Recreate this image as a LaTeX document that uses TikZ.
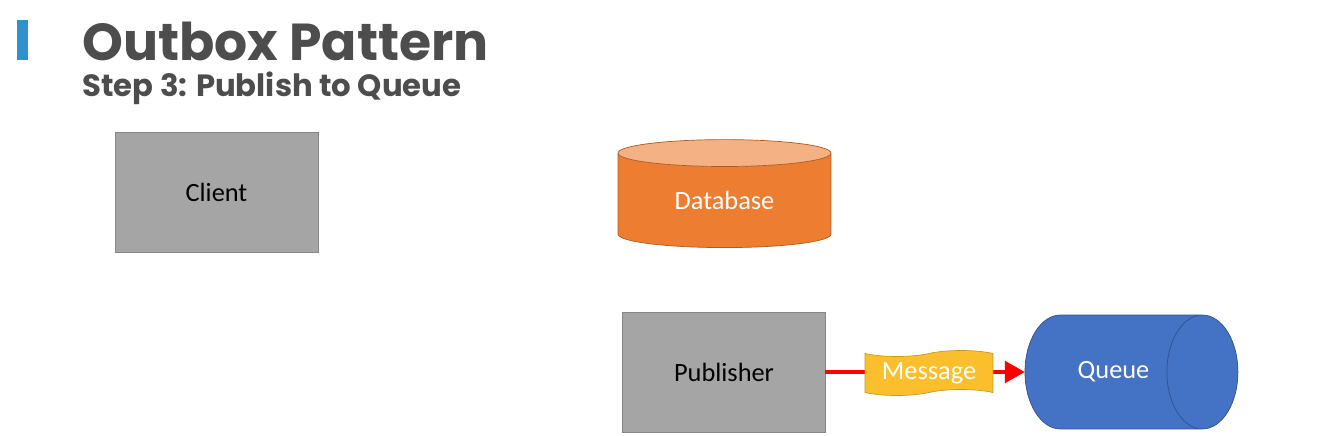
\documentclass[tikz,border=0pt]{standalone}
\usepackage{fontspec}
\setmainfont{Carlito}
\newfontfamily\headfont{Poppins}
\usetikzlibrary{shapes.geometric}
\usetikzlibrary{shapes.symbols}
\usetikzlibrary{arrows.meta}
\definecolor{titlegray}{HTML}{4D4D4D}
\definecolor{barblue}{HTML}{2E93CC}
\definecolor{boxgray}{HTML}{A5A5A5}
\definecolor{boxline}{HTML}{878787}
\definecolor{dborange}{HTML}{ED7D31}
\definecolor{dbtop}{HTML}{F4B183}
\definecolor{dbline}{HTML}{AE5A21}
\definecolor{queueblue}{HTML}{4472C4}
\definecolor{queueline}{HTML}{2F528F}
\definecolor{msgyellow}{HTML}{FBBF2D}
\definecolor{msgline}{HTML}{C99A1E}

\begin{document}
\begin{tikzpicture}[x=0.02cm, y=-0.02cm,
  label text/.style={font=\fontsize{15}{18}\selectfont},
  graybox/.style={label text, draw=boxline, fill=boxgray, inner sep=0pt, outer sep=0pt,
    minimum width=4.06cm, minimum height=2.4cm},
  store/.style={label text, cylinder, text=white, inner sep=0pt, outer sep=0pt},
  msgtape/.style={label text, tape, draw=msgline, fill=msgyellow, text=white,
    minimum width=2.56cm, minimum height=0.9cm, tape bend height=0.12cm, inner sep=0pt}]
\useasboundingbox (0,0) rectangle (1332,436);

% heading
\fill[barblue] (17,20) rectangle (28,60);
\node[anchor=base west, inner sep=0pt, text=titlegray, font=\headfont\bfseries\fontsize{29.6}{32}\selectfont] (title) at (82,60) {Outbox Pattern};
\node[anchor=base west, inner sep=0pt, text=titlegray, font=\headfont\bfseries\fontsize{17.5}{20}\selectfont] (subtitle) at (82,96) {Step 3: Publish to Queue};

% services
\node[graybox] (client) at (216.5,192) {Client};
\node[graybox] (publisher) at (724,372) {Publisher};

% database and queue
\node[store, shape border rotate=90, draw=dbline, cylinder uses custom fill,
  cylinder body fill=dborange, cylinder end fill=dbtop, aspect=0.27,
  minimum width=4.26cm, minimum height=2.16cm] (database) at (724.5,200.5) {Database};
\node[store, draw=queueline, fill=queueblue, aspect=3.45,
  minimum height=4.26cm, minimum width=2.28cm] (queue) at (1113.5,372) {Queue};

% publish
\draw[red, line width=2.8pt, -{Triangle[length=0.4cm, width=0.42cm]}] (publisher.east) -- (queue.west);
\node[msgtape] (message) at (929,373) {Message};

\end{tikzpicture}
\end{document}
